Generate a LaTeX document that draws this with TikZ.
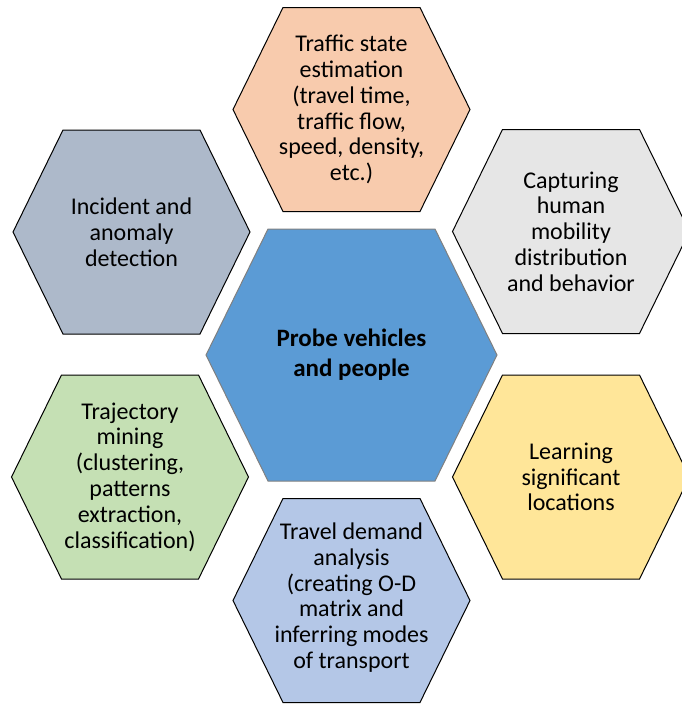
\documentclass[tikz,border=0pt]{standalone}
\usepackage{fontspec}
\setmainfont{Carlito}

\definecolor{peach}{HTML}{F8CBAD}
\definecolor{lgray}{HTML}{E6E6E6}
\definecolor{sand}{HTML}{FFE699}
\definecolor{lblue}{HTML}{B4C7E7}
\definecolor{lgreen}{HTML}{C5E0B4}
\definecolor{slate}{HTML}{ADB9CA}
\definecolor{core}{HTML}{5B9BD5}

\begin{document}
\begin{tikzpicture}[x=1pt,y=-1pt]
        \useasboundingbox (0,0) rectangle (681,705);

        \coordinate (hC)  at (351.5,355);
        \coordinate (hT)  at (351.5,109.5);
        \coordinate (hTR) at (571,231.5);
        \coordinate (hBR) at (571,477);
        \coordinate (hB)  at (351.5,600.5);
        \coordinate (hBL) at (130,477);
        \coordinate (hTL) at (131.5,232);

        \draw[draw=gray, line width=1pt, fill=core]
          ([xshift=-145.5pt]hC) -- ++(62,-126) -- ++(167,0) -- ++(62,126)
          -- ++(-62,126) -- ++(-167,0) -- cycle;

        \foreach \h/\col in {hT/peach, hTR/lgray, hBR/sand, hB/lblue, hBL/lgreen, hTL/slate}
          \draw[line width=1pt, fill=\col]
            ([xshift=-118.5pt]\h) -- ++(50,-102) -- ++(137,0) -- ++(50,102)
            -- ++(-50,102) -- ++(-137,0) -- cycle;

        \begin{scope}[every node/.style={align=center, inner sep=0pt, font=\fontsize{24}{25.8}\selectfont}]
          \node[font=\bfseries\fontsize{25}{30}\selectfont] (probe) at (hC) {Probe vehicles\\and people};
          \node (traffic)   at (hT)  {Traffic state\\estimation\\(travel time,\\traffic flow,\\speed, density,\\etc.)};
          \node (mobility)  at (hTR) {Capturing\\human\\mobility\\distribution\\and behavior};
          \node (locations) at (hBR) {Learning\\significant\\locations};
          \node (demand)    at ([yshift=3pt]hB) {Travel demand\\analysis\\(creating O-D\\matrix and\\inferring modes\\of transport};
          \node (mining)    at (hBL) {Trajectory\\mining\\(clustering,\\patterns\\extraction,\\classification)};
          \node (incident)  at (hTL) {Incident and\\anomaly\\detection};
        \end{scope}

      \end{tikzpicture}
\end{document}
